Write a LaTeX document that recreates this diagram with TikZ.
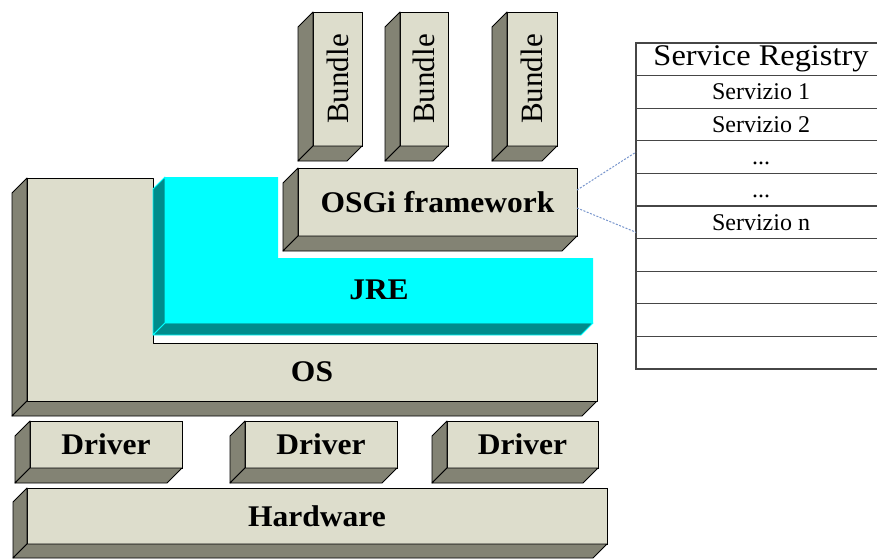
\documentclass[tikz,border=0pt]{standalone}
\usepackage{fontspec}
\setmainfont{Liberation Serif}
\usetikzlibrary{fit}

\definecolor{slabface}{RGB}{221,221,204}
\definecolor{slabside}{RGB}{131,131,116}
\definecolor{jreface}{RGB}{0,255,255}
\definecolor{jreside}{RGB}{0,140,140}
\definecolor{linkblue}{RGB}{120,150,205}
\definecolor{gridline}{RGB}{70,70,70}

\newcommand\boldlabel{\fontsize{30}{30}\selectfont\bfseries}
\newcommand\bundlefont{\fontsize{31}{31}\selectfont}
\newcommand\headfont{\fontsize{30}{30}\selectfont}
\newcommand\cellfont{\fontsize{24}{24}\selectfont}
\newcommand\stretched[1]{\scalebox{1.05}[1]{#1}}
\newcommand\regdots{\vphantom{S}...}

\tikzset{
  face/.style={draw=black, line width=0.9pt, fill=slabface, inner sep=0pt,
               outer sep=0pt},
  sideface/.style={draw=black, line width=0.9pt, fill=slabside, line join=round},
  jrefront/.style={fill=jreface},
  jreedge/.style={fill=jreside, draw=jreface, line width=0.8pt, line join=round},
  label/.style={font=\boldlabel, inner sep=0pt},
  regcell/.style={draw=gridline, line width=1.1pt, minimum width=250pt,
                  minimum height=32.6pt, inner sep=0pt, outer sep=0pt, font=\cellfont},
  link/.style={draw=linkblue, line width=1pt, dash pattern=on 2pt off 1.5pt},
}

% a raised slab: front face from (x1,y1) to (x2,y2), depth d towards lower left
% #1 extra text style, #2 name, #3..#6 corners, #7 depth, #8 text
\newcommand\slab[8][]{%
  \node[face, fit={(#3,#4) (#5,#6)}] (#2) {};
  \filldraw[sideface] (#2.north west) -- ++(-#7,#7)
     -- ([shift={(-#7,#7)}]#2.south west) -- (#2.south west) -- cycle;
  \filldraw[sideface] (#2.south west) -- ++(-#7,#7)
     -- ([shift={(-#7,#7)}]#2.south east) -- (#2.south east) -- cycle;
  \node[label, #1] (#2-text) at (#2.center) {#8};
}

\begin{document}
\begin{tikzpicture}[x=1pt, y=-1pt]
\clip (0,0) rectangle (877,559);
\fill[white] (0,0) rectangle (877,559);

% operating system (L-shaped slab)
\filldraw[sideface] (27,178) -- (12,193) -- (12,416) -- (27,401) -- cycle;
\filldraw[sideface] (27,401) -- (12,416) -- (582,416) -- (597,401) -- cycle;
\filldraw[draw=black, line width=0.9pt, fill=slabface, line join=round]
  (27,178) -- (153,178) -- (153,343) -- (597,343) -- (597,401) -- (27,401) -- cycle;
\node[label] (os) at (312,372) {\stretched{OS}};

% Java runtime (L-shaped slab)
\filldraw[jreedge] (165,177) -- (153,189) -- (153,335) -- (165,323) -- cycle;
\filldraw[jreedge] (165,323) -- (153,335) -- (581,335) -- (593,323) -- cycle;
\fill[jrefront] (165,177) -- (278,177) -- (278,258) -- (593,258) -- (593,323) -- (165,323) -- cycle;
\node[label] (jre) at (379,290) {\stretched{JRE}};

% framework and bundles
\slab{osgi}{298}{168}{577}{236}{15}{\stretched{OSGi framework}}
\slab[font=\bundlefont]{bundleA}{313}{12}{362}{146}{15}{\rotatebox{90}{Bundle}}
\slab[font=\bundlefont]{bundleB}{400}{12}{448}{146}{15}{\rotatebox{90}{Bundle}}
\slab[font=\bundlefont]{bundleC}{507}{12}{557}{146}{15}{\rotatebox{90}{Bundle}}

% drivers and hardware
\slab{driverA}{30}{421}{182}{468}{15}{\stretched{Driver}}
\slab{driverB}{245}{421}{397}{468}{15}{\stretched{Driver}}
\slab{driverC}{447}{421}{598}{468}{15}{\stretched{Driver}}
\slab{hardware}{27}{488}{607}{544}{14}{\stretched{Hardware}}

% service registry table
\node[regcell, font=\headfont] (reg0) at (761,59.3) {\scalebox{1.08}[1]{Service Registry}};
\foreach \lbl [count=\i] in {Servizio 1, Servizio 2, \regdots, \regdots, Servizio n, {}, {}, {}, {}}
  \node[regcell] (reg\i) at (761,{59.3+32.6*\i}) {\lbl};

% links from the framework to the registry
\draw[link] ([yshift=12pt]osgi.east) -- ([yshift=5pt]reg3.west);
\draw[link] ([yshift=-6pt]osgi.east) -- ([yshift=-10pt]reg5.west);
\end{tikzpicture}
\end{document}
